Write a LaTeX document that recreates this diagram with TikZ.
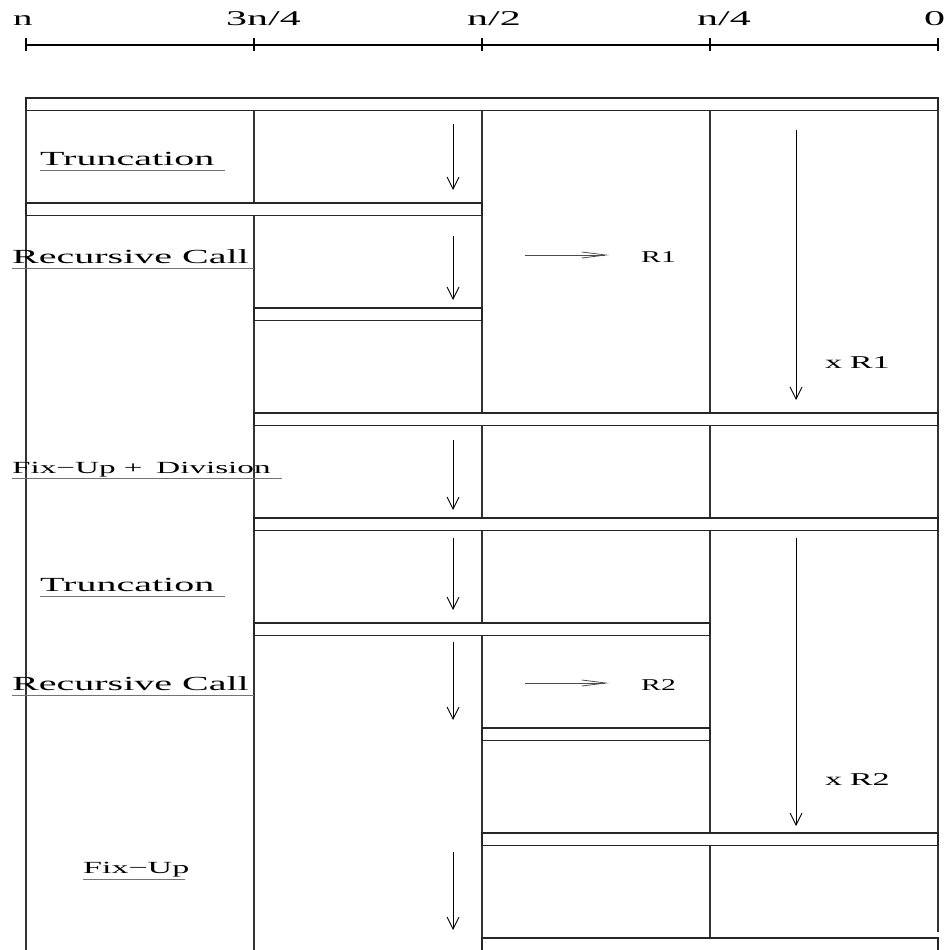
\documentclass[tikz,border=0pt]{standalone}
\usepackage{graphicx}
\usepackage{fontspec}
\setmainfont{Liberation Serif}
\usetikzlibrary{arrows.meta}
\newcommand\hs[2][2]{\scalebox{#1}[1]{#2}}
\begin{document}
\begin{tikzpicture}[x=1pt,y=-1pt,
  bar/.style={draw=black!85, line width=1.2pt, fill=white},
  vline/.style={draw=black!80, line width=1.2pt},
  downarrow/.style={draw=black, line width=0.9pt, -{Straight Barb[length=12pt,width=12pt,line width=0.9pt]}},
  sidearrow/.style={draw=black!70, line width=0.8pt, -{Straight Barb[length=24pt,width=6pt,line width=0.8pt]}},
  axlbl/.style={anchor=base west, inner sep=0pt, font=\fontsize{21}{24}\selectfont},
  lbl/.style={anchor=base west, inner sep=0pt, font=\fontsize{20}{24}\selectfont},
  slbl/.style={anchor=base west, inner sep=0pt, font=\fontsize{17}{20}\selectfont},
  rlbl/.style={anchor=base west, inner sep=0pt, font=\fontsize{16.5}{20}\selectfont},
  xlbl/.style={anchor=base west, inner sep=0pt, font=\fontsize{18}{20}\selectfont},
  uline/.style={draw=black!55, line width=0.9pt}
]
\useasboundingbox (0,0) rectangle (950,950);

% axis
\coordinate (a0) at (26,45);
\coordinate (a1) at (254,45);
\coordinate (a2) at (482,45);
\coordinate (a3) at (710,45);
\coordinate (a4) at (938,45);
\draw[line width=2pt] (a0) -- (a4);
\foreach \i in {0,...,4} \draw[line width=1.2pt] ([yshift=-6pt]a\i) -- ([yshift=7pt]a\i);
\node[axlbl] (ln) at (13,26) {\hs[1.85]{n}};
\node[axlbl] (l34) at (226,26) {\hs{3n/4}};
\node[axlbl] (l12) at (467,26) {\hs{n/2}};
\node[axlbl] (l14) at (697,26) {\hs{n/4}};
\node[axlbl] (l0) at (924,26) {\hs{0}};

% vertical lines
\draw[vline] (26,98) -- (26,951);
\draw[vline] (254,98) -- (254,951);
\draw[vline] (482,98) -- (482,951);
\draw[vline] (710,98) -- (710,938);
\draw[vline] (938,98) -- (938,932);

% bars
\draw[bar] (26,98) rectangle (938,110.5);
\draw[bar] (26,203) rectangle (482,215.5);
\draw[bar] (254,308) rectangle (482,320.5);
\draw[bar] (254,413) rectangle (938,425.5);
\draw[bar] (254,518) rectangle (938,530.5);
\draw[bar] (254,623) rectangle (710,635.5);
\draw[bar] (482,728) rectangle (710,740.5);
\draw[bar] (482,833) rectangle (938,845.5);
\draw[bar] (482,938) rectangle (938,952);

% down arrows
\foreach \n/\s/\e in {d1/124/190, d2/236/300, d3/440/510, d4/538/610, d5/642/720, d6/852/930}{
  \coordinate (\n s) at (453,\s);
  \coordinate (\n e) at (453,\e);
  \draw[downarrow] (\n s) -- (\n e);
}
\coordinate (L1s) at (796,130); \coordinate (L1e) at (796,400);
\draw[downarrow] (L1s) -- (L1e);
\coordinate (L2s) at (796,538); \coordinate (L2e) at (796,826);
\draw[downarrow] (L2s) -- (L2e);

% side arrows
\coordinate (h1s) at (525,255); \coordinate (h1e) at (609,255);
\draw[sidearrow] (h1s) -- (h1e);
\coordinate (h2s) at (525,683); \coordinate (h2e) at (609,683);
\draw[sidearrow] (h2s) -- (h2e);

\node[rlbl] (r1) at (641,262) {\hs[1.8]{R1}};
\node[rlbl] (r2) at (641,690) {\hs[1.8]{R2}};
\node[xlbl] (xr1) at (825,368) {\hs[1.9]{x\hspace{4pt}R1}};
\node[xlbl] (xr2) at (825,785) {\hs[1.9]{x\hspace{4pt}R2}};

% step labels
\node[lbl] (t1) at (40,165) {\hs{Truncation}};
\draw[uline] (40,170) -- (225,170);
\node[lbl] (rc1) at (12,263) {\hs{Recursive Call}};
\draw[uline] (12,268) -- (254,268);
\node[slbl] (fd) at (12,473) {\hs[1.95]{Fix−Up +\, Division}};
\draw[uline] (12,478) -- (282,478);
\node[lbl] (t2) at (40,591) {\hs{Truncation}};
\draw[uline] (40,596) -- (225,596);
\node[lbl] (rc2) at (12,690) {\hs{Recursive Call}};
\draw[uline] (12,695) -- (254,695);
\node[slbl] (fu) at (83,873) {\hs{Fix−Up}};
\draw[uline] (83,879) -- (185,879);
\end{tikzpicture}
\end{document}
